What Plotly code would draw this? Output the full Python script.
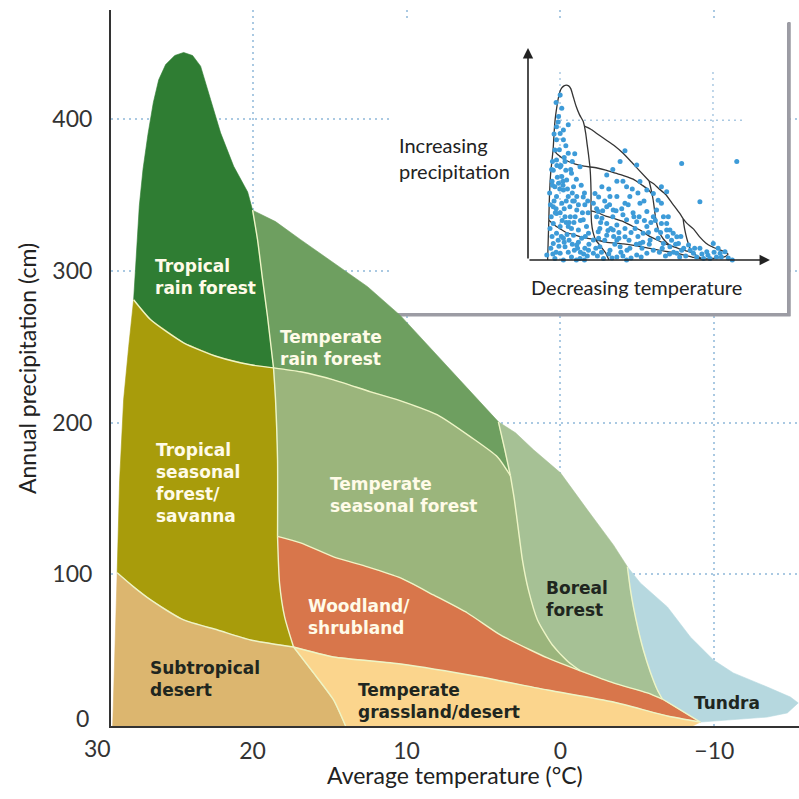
import plotly.graph_objects as go

# ---------------- Biome boundary curves: (temperature °C, precipitation cm) ----------------
left_desert_T = [29.09, 28.95, 28.80]
left_desert_P = [0, 50, 101]
left_savanna_T = [28.80, 28.64, 28.38, 28.05, 27.73]
left_savanna_P = [101, 162, 215, 250, 281]
peak_T = [27.73, 27.55, 27.36, 27.12, 26.80, 26.45, 26.10, 25.65, 25.06, 24.48, 23.90, 23.38, 22.73, 22.08, 21.23, 20.32, 20.0]
peak_P = [281, 312, 343, 367, 390, 411, 426, 436, 442, 444, 442, 435, 413, 391, 369, 352, 340]
trf_top_T = [20.0, 18.51, 16.88, 14.74, 12.53, 10.39, 8.44, 6.49, 4.03]
trf_top_P = [340, 332.5, 320.6, 305.4, 289.6, 270.5, 249.3, 227.6, 200.5]
boreal_top_T = [4.03, 2.92, 1.75, 0.0, -1.75, -3.44, -4.35]
boreal_top_P = [200.5, 193.3, 182.1, 166.9, 142.5, 119.4, 105]
tundra_out_T = [-4.35, -5.19, -6.95, -8.44, -9.94, -11.23, -13.44, -14.94, -15.45, -14.74, -13.44, -11.23, -9.55, -9.09]
tundra_out_P = [105, 94.3, 78.5, 58.7, 43.5, 35.0, 25.7, 19.1, 15.2, 8.6, 5.9, 4.0, 2.6, 2.6]
desert_top_T = [28.80, 27.73, 26.62, 24.48, 22.27, 20.13, 17.34]
desert_top_P = [101, 91.7, 83.1, 69.9, 63.3, 56.7, 52.1]
rf_bottom_T = [27.73, 26.62, 24.48, 22.27, 20.13, 18.64]
rf_bottom_P = [281, 267.8, 252.6, 243.4, 238.1, 236.1]
trf_bottom_T = [18.64, 16.88, 14.74, 12.34, 10.19, 7.99, 5.84, 4.09, 3.25]
trf_bottom_P = [236.1, 233.5, 228.2, 220.3, 213.7, 205.1, 190.6, 177.4, 165]
trop_a_T = [20.0, 19.68, 19.35, 19.03, 18.64]
trop_a_P = [340, 320.6, 294.2, 269.8, 236.1]
trop_b_T = [18.64, 18.51, 18.38, 18.38]
trop_b_P = [236.1, 215, 175.5, 125]
trop_c_T = [18.38, 18.25, 17.92, 17.34]
trop_c_P = [125, 94.3, 71.9, 52.1]
trop_d_T = [17.34, 16.04, 14.74, 13.96]
trop_d_P = [52.1, 35, 17.2, 0]
bor_a_T = [4.03, 3.64, 3.25]
bor_a_P = [200.5, 183.4, 165]
bor_b_T = [3.25, 2.99, 2.73, 2.47, 2.08, 1.49, 0.52, -0.52, -1.30]
bor_b_P = [165, 149.1, 129.3, 109.5, 89.7, 69.9, 53.4, 42.2, 36.3]
wood_top_T = [18.38, 16.88, 14.74, 12.53, 10.39, 8.25, 6.04, 3.90, 1.95, 0.84, -1.30]
wood_top_P = [125, 120.7, 111.5, 104.9, 97.6, 86.4, 74.5, 60.0, 50.1, 44.9, 36.3]
wood_top2_T = [-1.30, -3.44, -5.65, -6.62]
wood_top2_P = [36.3, 28.4, 21.8, 17.8]
wood_tun_T = [-6.62, -7.79, -9.09]
wood_tun_P = [17.8, 10.6, 2.6]
bor_tun_T = [-4.35, -4.55, -4.74, -5.06, -5.39, -5.84, -6.30, -6.62]
bor_tun_P = [105, 89.7, 78.5, 63.3, 50.1, 35.6, 23.7, 17.8]
grass_top_T = [17.34, 14.74, 10.39, 5.19, 0.84, -3.44, -6.95, -9.09]
grass_top_P = [52.1, 45.5, 40.9, 32.3, 23.7, 15.8, 6.6, 2.6]
desert_base_T = [29.09, 13.96]
desert_base_P = [0, 0]
grass_base_T = [13.96, -8.6, -9.09]
grass_base_P = [0, 0, 2.6]

# ---------------- Inset: climate of sample sites (same units) ----------------
inset_T = [26.0, 25.6, 26.4, 26.9, 26.0, 24.0, 26.9, 25.2, 24.0, 27.3,
           26.9, 26.0, 24.8, 27.7, 25.6, 26.4, 24.4, 27.3, 25.2, 22.7,
           21.1, 23.2, 21.9, 24.0, 26.9, 25.6, 27.7, 23.6, 21.9, 19.9,
           26.9, 24.8, 22.3, 20.3, 27.7, 26.0, 24.0, 21.5, 19.5, 26.9,
           25.2, 22.7, 20.7, 19.0, 27.7, 24.8, 21.9, 19.9, 26.0, 23.2,
           21.1, 27.3, 29.3, 25.2, 28.0, 27.5, 28.2, 28.0, 27.0, 25.8,
           24.6, 23.0, 22.0, 20.8, 20.0, 19.2, 23.5, 22.6, 25.5, 24.3,
           23.0, 21.0, 19.3, 26.5, 28.5, 28.6, 27.9, 26.2, 25.0, 20.5,
           18.9, 24.0, 22.0, 20.0, 27.2, 26.1, 25.3, 23.8, 22.9, 21.7,
           28.3, 27.8, 26.3, 25.0, 23.8, 22.5, 21.5, 20.2, 19.0, 28.4,
           27.0, 26.0, 24.5, 23.0, 21.5, 20.3, 19.1, 27.9, 26.7, 25.3,
           24.2, 22.5, 21.0, 19.8, 25.7, 24.5, 23.2, 28.1, 26.8, 25.0,
           27.5, 26.5, 27.0, 25.2, 24.6, 23.4, 22.4,
           17.8, 16.6, 15.7, 14.5, 12.9, 13.7, 14.5, 12.9, 12.0, 10.0,
           9.6, 7.5, 10.0, 12.0, 14.5, 16.6, 17.8, 16.2, 13.7, 11.2,
           8.8, 6.3, 5.5, 7.1, 4.6, 17.8, 15.3, 12.0, 9.6, 7.1,
           4.6, 3.0, 3.8, 2.2, 1.0, 14.5, 7.1, 12.0, 8.8, 6.3,
           4.6, 3.0, 9.6, 11.2, 6.3, 4.6, 15.7, 17.4, 16.0, 15.0,
           13.0, 11.5, 10.5, 9.0, 8.0, 6.8, 5.8, 4.0, 16.8, 14.0,
           11.0, 8.5, 6.0, 10.5, 13.0, 15.0, 12.5, 16.5, 17.0, 13.5,
           17.0, 15.5, 13.8, 12.2, 10.8, 9.2, 7.8, 6.5, 5.2, 4.2,
           3.6, 16.2, 14.2, 12.8, 11.5, 10.0, 8.5, 7.2, 5.6, 17.2,
           15.8, 13.2, 10.5, 9.5, 16.5, 14.0, 12.0, 8.2, 6.8, 5.3,
           3.0, 1.8, 1.0, 0.5, -0.3, -1.1, 1.8, 0.5, -1.1, -2.8,
           -3.2, -1.9, 2.2, 1.0, -0.3, -0.3, -2.8, -4.0, -5.7, -0.7,
           -2.0, 1.5, -3.5, 0.0, 2.5, 1.2, -0.5, -1.5, -2.5, -3.8,
           -4.5, 0.8, -1.0, -5.0,
           -6.1, -6.9, -8.5, -10.2, -11.8, -13.5, -12.6, -11.0, -9.4, -7.7,
           -14.7, -13.0, -15.5, -10.5, -16.5, -7.2, -9.0, -12.0, -13.8,
           -8.5, -4.0, -17.6, 10.0]
inset_P = [419, 385, 364, 338, 321, 343, 305, 305, 271, 279,
           254, 237, 250, 228, 212, 195, 203, 186, 178, 186,
           237, 220, 161, 161, 161, 144, 135, 135, 127, 140,
           118, 110, 110, 102, 93, 85, 85, 76, 85, 68,
           55, 63, 55, 68, 42, 34, 38, 30, 17, 8,
           4, 4, 13, 0, 200, 150, 110, 60, 20, 240,
           228, 250, 205, 190, 170, 150, 110, 95, 100, 65,
           40, 20, 10, 50, 80, 170, 250, 280, 130, 120,
           40, 20, 0, 0, 120, 180, 200, 95, 150, 30,
           30, 15, 35, 45, 50, 25, 45, 15, 25, 140,
           130, 120, 150, 170, 140, 160, 120, 190, 210, 190,
           180, 150, 100, 60, 60, 95, 80, 230, 240, 260,
           320, 350, 400, 330, 290, 230, 270,
           144, 123, 106, 135, 127, 161, 93, 76, 89, 144,
           102, 80, 59, 51, 63, 72, 51, 34, 25, 34,
           30, 42, 68, 97, 85, 17, 4, 8, 0, 13,
           17, 25, 51, 76, 93, 216, 241, 161, 161, 144,
           123, 110, 186, 250, 199, 178, 186, 169, 95, 50,
           110, 70, 115, 50, 120, 60, 30, 40, 10, 15,
           20, 5, 8, 200, 230, 150, 40, 55, 110, 80,
           130, 125, 140, 125, 130, 140, 110, 110, 100, 70,
           95, 80, 75, 60, 55, 80, 70, 40, 45, 30,
           20, 5, 10, 25, 160, 180, 200, 180, 170, 150,
           169, 152, 144, 110, 93, 76, 55, 42, 34, 59,
           42, 68, 127, 186, 173, 76, 17, 25, 38, 110,
           20, 20, 8, 10, 100, 70, 60, 50, 40, 60,
           30, 30, 15, 10,
           25, 17, 30, 21, 42, 17, 8, 4, 4, 8,
           21, 30, 5, 12, 0, 30, 15, 20, 8,
           148, 245, 250, 277]


def seg(T, P, rev=False):
    pts = list(zip(T, P))
    return pts[::-1] if rev else pts


def poly(*parts):
    pts = []
    for p in parts:
        pts.extend(p)
    return [a for a, _ in pts], [b for _, b in pts]


biomes = [
    ("Tropical rain forest", "#2f7d33",
     poly(seg(rf_bottom_T, rf_bottom_P), seg(trop_a_T, trop_a_P, True), seg(peak_T, peak_P, True))),
    ("Tropical seasonal forest/savanna", "#a89c0b",
     poly(seg(desert_top_T, desert_top_P), seg(trop_c_T, trop_c_P, True), seg(trop_b_T, trop_b_P, True),
          seg(rf_bottom_T, rf_bottom_P, True), seg(left_savanna_T, left_savanna_P, True))),
    ("Subtropical desert", "#dcb66f",
     poly(seg(desert_base_T, desert_base_P), seg(trop_d_T, trop_d_P, True),
          seg(desert_top_T, desert_top_P, True), seg(left_desert_T, left_desert_P, True))),
    ("Temperate rain forest", "#6e9f60",
     poly(seg(trf_top_T, trf_top_P), seg(bor_a_T, bor_a_P), seg(trf_bottom_T, trf_bottom_P, True),
          seg(trop_a_T, trop_a_P, True))),
    ("Temperate seasonal forest", "#9bb57c",
     poly(seg(trf_bottom_T, trf_bottom_P), seg(bor_b_T, bor_b_P), seg(wood_top_T, wood_top_P, True),
          seg(trop_b_T, trop_b_P, True))),
    ("Woodland/shrubland", "#d8764b",
     poly(seg(wood_top_T, wood_top_P), seg(wood_top2_T, wood_top2_P), seg(wood_tun_T, wood_tun_P),
          seg(grass_top_T, grass_top_P, True), seg(trop_c_T, trop_c_P, True))),
    ("Temperate grassland/desert", "#fbd58d",
     poly(seg(grass_top_T, grass_top_P), seg(grass_base_T, grass_base_P, True), seg(trop_d_T, trop_d_P, True))),
    ("Boreal forest", "#a6c195",
     poly(seg(boreal_top_T, boreal_top_P), seg(bor_tun_T, bor_tun_P), seg(wood_top2_T, wood_top2_P, True),
          seg(bor_b_T, bor_b_P, True), seg(bor_a_T, bor_a_P, True))),
    ("Tundra", "#b6d8df",
     poly(seg(tundra_out_T, tundra_out_P), seg(wood_tun_T, wood_tun_P, True), seg(bor_tun_T, bor_tun_P, True))),
]

inner_curves = [
    (desert_top_T, desert_top_P), (rf_bottom_T, rf_bottom_P), (trf_bottom_T, trf_bottom_P),
    (trop_a_T, trop_a_P), (trop_b_T, trop_b_P), (trop_c_T, trop_c_P), (trop_d_T, trop_d_P),
    (bor_a_T, bor_a_P), (bor_b_T, bor_b_P), (wood_top_T, wood_top_P), (wood_top2_T, wood_top2_P),
    (wood_tun_T, wood_tun_P), (bor_tun_T, bor_tun_P), (grass_top_T, grass_top_P),
]
outer_curves = [
    (left_desert_T, left_desert_P), (left_savanna_T, left_savanna_P), (peak_T, peak_P),
    (trf_top_T, trf_top_P), (boreal_top_T, boreal_top_P), (tundra_out_T, tundra_out_P),
]

labels = [
    ("Tropical<br>rain forest", 26.49, 296, True),
    ("Temperate<br>rain forest", 18.38, 249, True),
    ("Tropical<br>seasonal<br>forest/<br>savanna", 26.43, 160, True),
    ("Temperate<br>seasonal forest", 15.13, 152, True),
    ("Woodland/<br>shrubland", 16.56, 72, True),
    ("Subtropical<br>desert", 26.82, 31, False),
    ("Temperate<br>grassland/desert", 13.25, 16.5, False),
    ("Boreal<br>forest", 1.10, 84, False),
    ("Tundra", -8.57, 15, False),
]

x_ticks = [20, 10, 0, -10]
x_ticktext = ["20", "10", "0", "\u221210"]
y_ticks = [100, 200, 300, 400]

FONT = "Lato"
LABEL_FONT = "DejaVu Sans"
fig = go.Figure()

for name, color, (xs, ys) in biomes:
    fig.add_trace(go.Scatter(x=xs, y=ys, mode="lines", fill="toself", fillcolor=color,
                             line=dict(color=color, width=0.6), name=name,
                             hoverinfo="name", showlegend=False))

for T, P in inner_curves:
    fig.add_trace(go.Scatter(x=T, y=P, mode="lines", line=dict(color="#eef5c6", width=1.4, shape="spline", smoothing=0.6),
                             hoverinfo="skip", showlegend=False))

# inset: miniature outline and site points
for T, P in outer_curves + inner_curves:
    fig.add_trace(go.Scatter(x=T, y=P, mode="lines", xaxis="x2", yaxis="y2",
                             line=dict(color="#353535", width=1.3, shape="spline", smoothing=0.6),
                             hoverinfo="skip", showlegend=False))
fig.add_trace(go.Scatter(x=inset_T, y=inset_P, mode="markers", xaxis="x2", yaxis="y2",
                         marker=dict(color="#3d9bd8", size=5, line=dict(width=0)),
                         cliponaxis=False, hoverinfo="skip", showlegend=False))

for text, tx, py, light in labels:
    fig.add_annotation(x=tx, y=py, xref="x", yref="y", text=text, showarrow=False,
                       xanchor="left", yanchor="middle", align="left",
                       font=dict(family=LABEL_FONT, size=17, color="#fffbe8" if light else "#20261f",
                                 weight="bold"))

grid = dict(showgrid=True, gridcolor="#aac9e2", gridwidth=1.5, griddash="2px,4px", zeroline=False,
            showline=True, linecolor="#333333", linewidth=2, ticks="",
            tickfont=dict(family=FONT, size=23, color="#333333"))

# plot area spans px 111..799 (x) and 10..726 (y); page margin removed below
fig.update_layout(
    width=799, height=799,
    margin=dict(l=111, r=0, t=10, b=73),
    paper_bgcolor="white", plot_bgcolor="white",
    xaxis=dict(range=[29.2, -15.5], tickvals=x_ticks, ticktext=x_ticktext, ticklabelstandoff=3, **grid),
    yaxis=dict(range=[0, 472], tickvals=y_ticks, ticklabelstandoff=12, **grid),
    xaxis2=dict(domain=[0.6061, 0.9578], anchor="y2", range=[33.94, -25.8], visible=False),
    yaxis2=dict(domain=[0.6508, 0.9469], anchor="x2", range=[0, 538], visible=False),
    showlegend=False,
)

# inset frame with a grey drop shadow, and its own dotted guides
fig.add_shape(type="rect", xref="x", yref="y", x0=10.7, x1=-14.95, y0=270.0, y1=463.5,
              fillcolor="#9c9ca4", line=dict(width=0), layer="between")
fig.add_shape(type="rect", xref="x", yref="y", x0=10.88, x1=-14.72, y0=272.2, y1=465.4,
              fillcolor="white", line=dict(width=0), layer="between")
fig.add_shape(type="line", xref="paper", yref="paper", x0=0.9855, x1=0.9855, y0=0.5726, y1=0.9832,
              line=dict(color="#9c9ca4", width=3), layer="above")
for gx in (26.04, -11.73):
    fig.add_shape(type="line", xref="x2", yref="y2", x0=gx, x1=gx, y0=0, y1=477,
                  line=dict(color="#aac9e2", width=1.5, dash="2px,4px"), layer="between")
fig.add_shape(type="line", xref="x2", yref="y2", x0=26.04, x1=-19.63, y0=355, y1=355,
              line=dict(color="#aac9e2", width=1.5, dash="2px,4px"), layer="between")

# inset arrows
fig.add_annotation(x=0.6061, y=0.9469, xref="paper", yref="paper", ax=0, ay=212, text="",
                   showarrow=True, arrowhead=2, arrowsize=1.3, arrowwidth=1.6, arrowcolor="#222")
fig.add_annotation(x=0.9578, y=0.6508, xref="paper", yref="paper", ax=-242, ay=0, text="",
                   showarrow=True, arrowhead=2, arrowsize=1.3, arrowwidth=1.6, arrowcolor="#222")
fig.add_annotation(x=0.4157, y=0.7933, xref="paper", yref="paper", text="Increasing<br>precipitation",
                   showarrow=False, xanchor="left", yanchor="middle", align="left",
                   font=dict(family=FONT, size=20, color="#222"))
fig.add_annotation(x=0.7631, y=0.6131, xref="paper", yref="paper", text="Decreasing temperature",
                   showarrow=False, xanchor="center", yanchor="middle",
                   font=dict(family=FONT, size=20, color="#222"))

# out-of-range tick labels and axis titles
fig.add_annotation(x=-0.0189, y=-0.0307, xref="paper", yref="paper", text="30", showarrow=False,
                   xanchor="center", yanchor="middle", font=dict(family=FONT, size=23, color="#333333"))
fig.add_annotation(x=-0.029, y=0.0112, xref="paper", yref="paper", text="0", showarrow=False,
                   xanchor="right", yanchor="middle", font=dict(family=FONT, size=23, color="#333333"))
fig.add_annotation(x=0.5, y=-0.0684, xref="paper", yref="paper", text="Average temperature (\u00b0C)",
                   showarrow=False, xanchor="center", yanchor="middle",
                   font=dict(family=FONT, size=23, color="#222"))
fig.add_annotation(x=-0.1221, y=0.5, xref="paper", yref="paper", text="Annual precipitation (cm)",
                   showarrow=False, xanchor="center", yanchor="middle", textangle=-90,
                   font=dict(family=FONT, size=23, color="#222"))

fig.write_html("out.html", config={"displayModeBar": False},
               post_script="document.body.style.margin='0px';document.body.style.overflow='hidden';")
